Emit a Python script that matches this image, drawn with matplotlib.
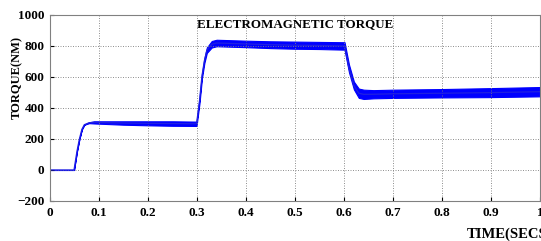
import matplotlib
matplotlib.use("Agg")
import matplotlib.pyplot as plt

# key times (s) and envelope of the rippled torque (NM)
time_s = [0.0, 0.049, 0.055, 0.060, 0.065, 0.070, 0.080, 0.090, 0.150, 0.200, 0.250, 0.299,
          0.305, 0.310, 0.315, 0.320, 0.330, 0.340, 0.400, 0.450, 0.500, 0.550, 0.601,
          0.610, 0.620, 0.630, 0.640, 0.660, 0.700, 0.800, 0.900, 1.000]
torque_upper = [0, 0, 120, 200, 262, 292, 308, 314, 314, 314, 314, 312,
                460, 620, 720, 790, 832, 840, 834, 830, 828, 826, 824,
                680, 570, 525, 518, 515, 518, 522, 528, 535]
torque_lower = [0, 0, 120, 200, 262, 292, 302, 300, 292, 288, 285, 284,
                430, 590, 690, 755, 790, 798, 792, 786, 782, 780, 776,
                630, 520, 465, 458, 462, 465, 468, 470, 475]

x_ticks = [0, 0.1, 0.2, 0.3, 0.4, 0.5, 0.6, 0.7, 0.8, 0.9, 1]
x_tick_labels = ["0", "0.1", "0.2", "0.3", "0.4", "0.5", "0.6", "0.7", "0.8", "0.9", "1"]
y_ticks = [-200, 0, 200, 400, 600, 800, 1000]

plt.rcParams['font.family'] = ['Liberation Serif', 'DejaVu Serif']
plt.rcParams['font.weight'] = 'bold'

fig = plt.figure(figsize=(5.41, 2.41), dpi=100)
ax = fig.add_axes([0.0924, 0.166, 0.906, 0.772])

mid = [(u + l) / 2 for u, l in zip(torque_upper, torque_lower)]
ax.fill_between(time_s, torque_lower, torque_upper, color='#0000ff', linewidth=0.8, edgecolor='#0000ff')
ax.plot(time_s, mid, color='#2020e0', linewidth=0.9)

ax.set_xlim(0, 1)
ax.set_ylim(-200, 1000)
ax.set_xticks(x_ticks)
ax.set_xticklabels(x_tick_labels)
ax.set_yticks(y_ticks)
ax.tick_params(direction='in', length=3, labelsize=9.5, colors='black', pad=4)
for lab in ax.get_xticklabels() + ax.get_yticklabels():
    lab.set_fontweight('bold')
ax.grid(True, linestyle=(0, (1.2, 1.8)), color='#808080', linewidth=0.6)
for s in ax.spines.values():
    s.set_color('#808080')
    s.set_linewidth(0.8)

ax.text(0.5, 0.985, "ELECTROMAGNETIC TORQUE", transform=ax.transAxes, ha='center', va='top',
        fontsize=9.4, fontweight='bold')
fig.text(0.031, 0.68, "TORQUE(NM)", rotation=90, ha='center', va='center', fontsize=9, fontweight='bold')
fig.text(0.863, 0.029, "TIME(SECS)", ha='left', va='center', fontsize=10.5, fontweight='bold')

fig.savefig("out.png", dpi=100)
